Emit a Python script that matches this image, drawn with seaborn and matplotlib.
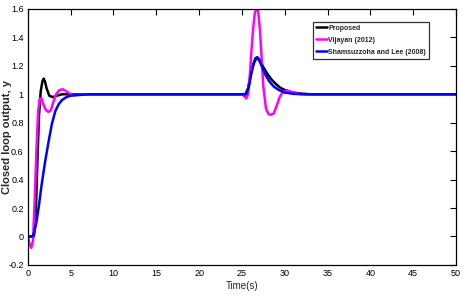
import numpy as np
import pandas as pd
import seaborn as sns
import matplotlib.pyplot as plt
from matplotlib import font_manager

# Proposed (black)
t_prop = [0, 0.5, 0.7, 0.9, 1.1, 1.3, 1.5, 1.7, 1.85, 2.0, 2.2, 2.5, 2.9, 3.4, 4.0, 6.0, 10, 15, 20,
          25.0, 25.4, 25.7, 26.0, 26.3, 26.6, 26.8, 27.1, 27.5, 28.0, 28.5, 29.0, 29.5, 30.0, 31.0, 32.0, 33.0, 35, 40, 45, 50]
y_prop = [0, 0, 0.0, 0.1, 0.5, 0.85, 1.02, 1.09, 1.11, 1.09, 1.04, 0.99, 0.98, 0.99, 1.0, 1.0, 1.0, 1.0, 1.0,
          1.0, 1.0, 1.04, 1.13, 1.21, 1.255, 1.26, 1.24, 1.19, 1.14, 1.10, 1.07, 1.045, 1.03, 1.012, 1.004, 1.0, 1.0, 1.0, 1.0, 1.0]

# Vijayan (2012) (magenta)
t_vij = [0, 0.2, 0.4, 0.6, 0.8, 1.0, 1.2, 1.4, 1.6, 1.8, 2.1, 2.4, 2.7, 3.0, 3.3, 3.7, 4.1, 4.5, 5.0, 5.5, 6.5, 10, 15, 20,
         25.0, 25.3, 25.5, 25.7, 25.9, 26.1, 26.3, 26.5, 26.7, 26.9, 27.1, 27.3, 27.5, 27.8, 28.1, 28.4, 28.7, 29.0,
         29.4, 29.8, 30.2, 30.8, 31.5, 32.5, 35, 40, 45, 50]
y_vij = [0, -0.05, -0.08, -0.03, 0.25, 0.6, 0.88, 0.97, 0.97, 0.93, 0.89, 0.875, 0.89, 0.95, 1.0, 1.03, 1.035, 1.02, 1.0, 0.995, 1.0, 1.0, 1.0, 1.0,
         1.0, 0.985, 0.97, 1.0, 1.12, 1.3, 1.46, 1.57, 1.61, 1.58, 1.45, 1.25, 1.05, 0.9, 0.86, 0.855, 0.865, 0.91,
         0.98, 1.02, 1.025, 1.015, 1.004, 1.0, 1.0, 1.0, 1.0, 1.0]

# Shamsuzzoha and Lee (2008) (blue)
t_sham = [0, 0.5, 0.7, 1.0, 1.3, 1.6, 2.0, 2.4, 2.8, 3.2, 3.6, 4.0, 4.5, 5.0, 6.0, 7.0, 10, 15, 20,
          25.0, 25.5, 25.8, 26.1, 26.4, 26.7, 27.0, 27.3, 27.7, 28.2, 28.7, 29.3, 30.0, 31.0, 32.0, 35, 40, 45, 50]
y_sham = [0, 0, 0.02, 0.1, 0.22, 0.36, 0.52, 0.66, 0.79, 0.88, 0.93, 0.96, 0.98, 0.99, 0.995, 1.0, 1.0, 1.0, 1.0,
          1.0, 1.0, 1.05, 1.15, 1.22, 1.255, 1.24, 1.2, 1.14, 1.09, 1.055, 1.03, 1.012, 1.003, 1.0, 1.0, 1.0, 1.0, 1.0]

labels = ['Proposed', 'Vijayan (2012)', 'Shamsuzzoha and Lee (2008)']
colors = ['#000000', '#ff00ff', '#0000ff']

df = pd.concat([
    pd.DataFrame({'t': t_prop, 'y': y_prop, 'method': labels[0]}),
    pd.DataFrame({'t': t_vij, 'y': y_vij, 'method': labels[1]}),
    pd.DataFrame({'t': t_sham, 'y': y_sham, 'method': labels[2]}),
], ignore_index=True)

sns.set_style('white')
names = {f.name for f in font_manager.fontManager.ttflist}
narrow = 'Liberation Sans Narrow' if 'Liberation Sans Narrow' in names else 'Liberation Sans'
plt.rcParams['font.family'] = [narrow, 'DejaVu Sans']

fig = plt.figure(figsize=(4.64, 2.98), dpi=100)
ax = fig.add_axes([0.060, 0.111, 0.923, 0.859])

sns.lineplot(data=df, x='t', y='y', hue='method', palette=colors, hue_order=labels,
             linewidth=1.8, sort=False, estimator=None, ax=ax)

ax.set_xlim(0, 50)
ax.set_ylim(-0.2, 1.6)
ax.set_xticks(np.arange(0, 51, 5))
ax.set_yticks(np.arange(-0.2, 1.61, 0.2))
ax.set_yticklabels(['-0.2', '0', '0.2', '0.4', '0.6', '0.8', '1', '1.2', '1.4', '1.6'])
ax.tick_params(direction='in', top=True, right=True, length=4, width=0.8,
               labelsize=6.5, colors='black', pad=3)
for s in ax.spines.values():
    s.set_color('black')
    s.set_linewidth(0.9)

ax.set_xlabel('Time(s)', fontsize=7, labelpad=2)
ax.set_ylabel('Closed loop output, y', fontsize=8, fontweight='bold',
              family=['Liberation Sans', 'DejaVu Sans'])
ax.yaxis.set_label_coords(-0.037, 0.5)

leg = ax.legend(loc='upper right', bbox_to_anchor=(0.937, 0.95), fontsize=5,
                frameon=True, fancybox=False, edgecolor='black', handlelength=1.5,
                handletextpad=0.2, borderpad=0.45, labelspacing=0.7, borderaxespad=0)
leg.get_frame().set_linewidth(0.9)
for txt in leg.get_texts():
    txt.set_fontweight('bold')

plt.savefig('out.png', dpi=100)
